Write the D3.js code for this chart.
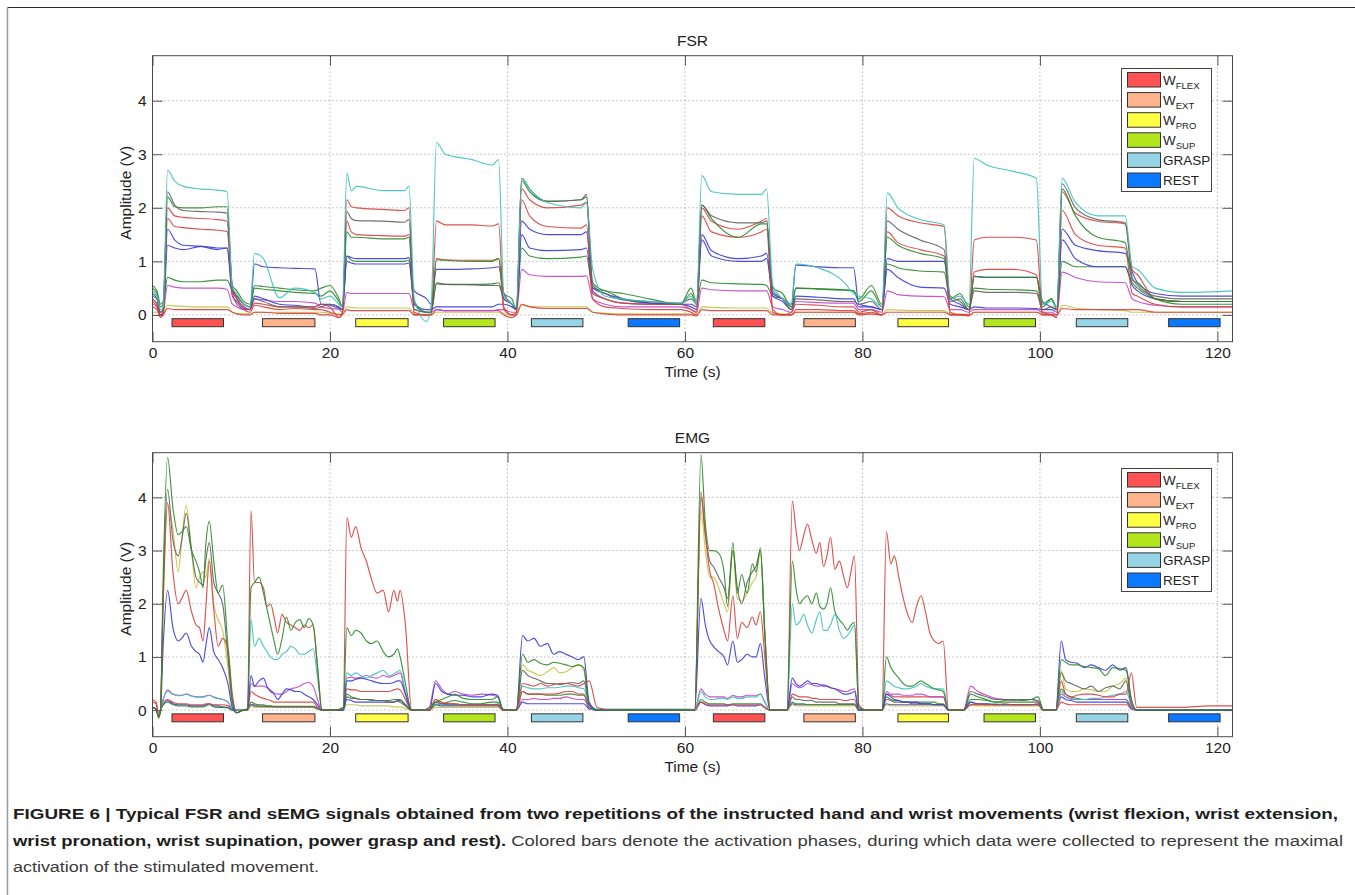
<!DOCTYPE html>
<html>
<head>
<meta charset="utf-8">
<script src="https://cdn.jsdelivr.net/npm/d3@7"></script>
<style>
  body { margin: 0; background: #fff; }
  text { font-family: "Liberation Sans", Arial, Helvetica, sans-serif; }
</style>
</head>
<body>
<script>
// ---- data ----
var xTicks = [0, 20, 40, 60, 80, 100, 120];
var yTicks = [0, 1, 2, 3, 4];

var phaseNames = ["FLEX", "EXT", "PRO", "SUP", "GRASP", "REST"];
var phaseColors = ["#ff5252", "#ffb48c", "#ffff46", "#b4e61e", "#96d4e6", "#0a78ff"];
var barStart = [2.2, 12.4, 22.9, 32.8, 42.7, 53.6, 63.2, 73.4, 84.0, 93.7, 104.1, 114.5];
var barEnd   = [8.0, 18.3, 28.8, 38.6, 48.5, 59.4, 69.0, 79.2, 89.7, 99.5, 109.9, 120.3];
var barPhase = [0, 1, 2, 3, 4, 5, 0, 1, 2, 3, 4, 5];

// FSR channels, sampled at fsrTime (s)
var fsrTime = [
 0, 0.5, 0.9, 1.2,
 1.7, 2.5, 3.5, 5.5, 7.3, 8.4,
 9.0, 9.5, 10.3, 11.0,
 11.5, 12.5, 14.3, 16.0, 18.3,
 19.0, 20.0, 21.0, 21.4,
 21.9, 22.4, 23.0, 26.0, 28.4, 28.9,
 29.5, 30.9, 31.4,
 32.0, 33.0, 36.0, 38.3, 39.0,
 39.6, 40.5, 41.0,
 41.6, 42.5, 44.5, 48.3, 48.9,
 49.6, 51.0, 53.0, 56.0, 59.5, 60.7, 61.3,
 61.9, 63.0, 66.0, 68.6, 69.2,
 69.9, 71.0, 72.0,
 72.5, 75.0, 78.0, 79.0,
 79.6, 81.0, 82.2,
 82.8, 84.0, 86.5, 89.2,
 89.9, 91.0, 92.0,
 92.6, 94.0, 97.0, 99.6,
 100.3, 101.3, 101.9,
 102.5, 104.0, 106.5, 109.6,
 110.4, 111.0, 113.0, 116.0, 121.7];

var fsrCyan = [
 0.45, 0.35, 0.1, 0.15,
 2.7, 2.5, 2.4, 2.35, 2.33, 2.3,
 0.5, 0.4, 0.2, 0.15,
 1.15, 1.05, 0.32, 0.5, 0.42,
 0.3, 0.35, 0.2, 0.15,
 2.65, 2.32, 2.4, 2.32, 2.32, 2.4,
 0.3, -0.12, 0.2,
 3.22, 3.0, 2.9, 2.8, 2.9,
 0.35, 0.2, 0.15,
 2.55, 2.35, 2.1, 2.0, 2.1,
 0.85, 0.35, 0.3, 0.25, 0.22, 0.35, 0.2,
 2.6, 2.3, 2.25, 2.25, 2.35,
 0.55, 0.3, 0.2,
 0.95, 0.88, 0.6, 0.4,
 0.35, 0.3, 0.15,
 2.28, 2.0, 1.78, 1.68,
 0.3, 0.35, 0.2,
 2.92, 2.8, 2.68, 2.55,
 0.2, 0.25, 0.15,
 2.55, 2.1, 1.85, 1.85,
 0.9, 0.85, 0.5, 0.42, 0.45];

var fsrGray = [
 0.35, 0.3, 0.05, 0.1,
 2.3, 2.05, 1.95, 1.93, 1.92, 1.9,
 0.5, 0.35, 0.2, 0.15,
 0.3, 0.25, 0.15, 0.15, 0.12,
 0.15, 0.2, 0.15, 0.1,
 1.93, 1.8, 1.76, 1.75, 1.73, 1.78,
 0.1, 0.05, 0.05,
 0.6, 0.57, 0.56, 0.55, 0.55,
 0.3, 0.2, 0.1,
 2.55, 2.35, 2.12, 2.15, 2.25,
 0.55, 0.4, 0.28, 0.25, 0.22, 0.3, 0.2,
 2.05, 1.85, 1.72, 1.72, 1.75,
 0.45, 0.3, 0.1,
 0.3, 0.28, 0.25, 0.25,
 0.2, 0.25, 0.1,
 1.75, 1.6, 1.4, 1.22,
 0.25, 0.3, 0.1,
 0.45, 0.42, 0.42, 0.4,
 0.1, 0.15, 0.1,
 2.45, 2.0, 1.78, 1.72,
 0.7, 0.55, 0.35, 0.3, 0.3];

var fsrGreen = [
 0.55, 0.45, 0.2, 0.25,
 2.2, 2.02, 2.0, 2.0, 2.02, 2.02,
 0.55, 0.45, 0.25, 0.2,
 0.55, 0.53, 0.5, 0.47, 0.45,
 0.5, 0.55, 0.3, 0.15,
 1.55, 1.45, 1.45, 1.42, 1.42, 1.45,
 0.25, 0.05, 0.05,
 1.03, 1.02, 1.0, 1.0, 1.05,
 0.4, 0.3, 0.1,
 2.5, 2.3, 2.12, 2.15, 2.2,
 0.6, 0.45, 0.4, 0.3, 0.2, 0.5, 0.25,
 2.05, 1.8, 1.45, 1.7, 1.7,
 0.5, 0.4, 0.15,
 0.5, 0.49, 0.47, 0.45,
 0.3, 0.55, 0.2,
 1.45, 1.3, 1.15, 1.05,
 0.35, 0.25, 0.1,
 0.72, 0.7, 0.7, 0.7,
 0.2, 0.3, 0.15,
 2.35, 1.85, 1.45, 1.35,
 0.65, 0.6, 0.3, 0.25, 0.25];

var fsrRed1 = [
 0.3, 0.2, 0.0, 0.05,
 2.0, 1.85, 1.82, 1.8, 1.78, 1.75,
 0.45, 0.3, 0.15, 0.1,
 0.22, 0.2, 0.15, 0.15, 0.15,
 0.2, 0.15, -0.05, 0.05,
 2.15, 2.02, 2.0, 1.97, 1.95, 2.0,
 0.05, 0.0, 0.05,
 1.75, 1.68, 1.68, 1.66, 1.7,
 0.15, 0.0, 0.05,
 2.35, 2.15, 2.0, 2.05, 2.1,
 0.4, 0.3, 0.22, 0.2, 0.2, 0.1, 0.05,
 2.0, 1.75, 1.6, 1.75, 1.8,
 0.1, 0.0, 0.05,
 0.2, 0.18, 0.15, 0.15,
 0.05, 0.1, 0.0,
 2.0, 1.85, 1.72, 1.65,
 0.05, 0.0, 0.0,
 1.4, 1.45, 1.45, 1.4,
 0.05, 0.0, -0.05,
 2.3, 1.9, 1.75, 1.7,
 0.85, 0.75, 0.3, 0.25, 0.25];

var fsrRed2 = [
 0.25, 0.15, -0.05, 0.0,
 1.8, 1.65, 1.63, 1.6, 1.58, 1.56,
 0.4, 0.2, 0.1, 0.05,
 0.18, 0.15, 0.1, 0.12, 0.1,
 0.1, 0.05, 0.0, 0.0,
 1.75, 1.55, 1.5, 1.48, 1.47, 1.5,
 0.0, 0.0, 0.0,
 1.05, 1.03, 1.02, 1.02, 1.05,
 0.1, 0.0, 0.0,
 2.15, 1.85, 1.65, 1.62, 1.68,
 0.3, 0.15, 0.12, 0.1, 0.1, 0.05, 0.0,
 1.85, 1.55, 1.45, 1.55, 1.6,
 0.05, 0.0, 0.0,
 0.1, 0.1, 0.08, 0.08,
 0.02, 0.05, 0.0,
 1.55, 1.35, 1.22, 1.1,
 0.0, 0.0, 0.0,
 0.8, 0.85, 0.85, 0.75,
 0.0, 0.0, -0.05,
 1.95, 1.5, 1.3, 1.25,
 0.4, 0.35, 0.2, 0.15, 0.15];

var fsrBlue1 = [
 0.4, 0.3, 0.05, 0.1,
 1.6, 1.4, 1.3, 1.28, 1.22, 1.25,
 0.5, 0.3, 0.15, 0.1,
 0.95, 0.9, 0.88, 0.87, 0.86,
 0.2, 0.2, 0.15, 0.1,
 1.1, 1.07, 1.05, 1.05, 1.05, 1.07,
 0.45, 0.3, 0.2,
 0.85, 0.85, 0.86, 0.88, 0.9,
 0.4, 0.2, 0.1,
 1.75, 1.6, 1.5, 1.5, 1.55,
 0.5, 0.4, 0.3, 0.22, 0.2, 0.2, 0.15,
 1.5, 1.2, 1.05, 1.1, 1.15,
 0.4, 0.3, 0.2,
 0.93, 0.9, 0.88, 0.88,
 0.2, 0.15, 0.1,
 1.05, 1.0, 1.0, 1.0,
 0.3, 0.2, 0.1,
 0.72, 0.7, 0.7, 0.7,
 0.25, 0.15, 0.1,
 1.6, 1.3, 1.2, 1.15,
 0.8, 0.6, 0.4, 0.35, 0.35];

var fsrBlue2 = [
 0.3, 0.2, 0.0, 0.05,
 1.3, 1.25, 1.22, 1.28, 1.25, 1.25,
 0.35, 0.25, 0.12, 0.1,
 0.35, 0.3, 0.2, 0.18, 0.15,
 0.2, 0.18, 0.12, 0.1,
 1.0, 0.97, 0.95, 0.95, 0.95, 0.97,
 0.2, 0.1, 0.1,
 0.15, 0.15, 0.15, 0.15, 0.2,
 0.2, 0.15, 0.1,
 1.5, 1.25, 1.2, 1.22, 1.25,
 0.45, 0.3, 0.22, 0.2, 0.2, 0.15, 0.1,
 1.4, 1.1, 1.0, 1.0, 1.05,
 0.35, 0.25, 0.1,
 0.35, 0.33, 0.3, 0.3,
 0.15, 0.15, 0.1,
 0.85, 0.7, 0.52, 0.5,
 0.2, 0.15, 0.1,
 0.15, 0.13, 0.13, 0.12,
 0.1, 0.1, 0.05,
 1.4, 1.05, 0.9, 0.9,
 0.55, 0.45, 0.3, 0.25, 0.25];

var fsrGreen2 = [
 0.5, 0.4, 0.15, 0.2,
 0.7, 0.65, 0.62, 0.62, 0.65, 0.65,
 0.45, 0.35, 0.2, 0.15,
 0.5, 0.48, 0.45, 0.42, 0.4,
 0.35, 0.45, 0.25, 0.15,
 1.1, 1.02, 1.0, 1.0, 1.0, 1.02,
 0.2, 0.05, 0.05,
 0.58, 0.57, 0.57, 0.58, 0.6,
 0.3, 0.2, 0.1,
 1.25, 1.1, 1.05, 1.08, 1.1,
 0.5, 0.45, 0.3, 0.22, 0.2, 0.4, 0.2,
 0.65, 0.6, 0.58, 0.57, 0.55,
 0.35, 0.3, 0.15,
 0.5, 0.48, 0.46, 0.45,
 0.25, 0.45, 0.15,
 0.95, 0.88, 0.82, 0.8,
 0.3, 0.4, 0.15,
 0.5, 0.48, 0.47, 0.45,
 0.15, 0.3, 0.1,
 1.0, 0.9, 0.9, 0.9,
 0.6, 0.5, 0.3, 0.2, 0.2];

var fsrMagenta = [
 0.2, 0.15, 0.0, 0.05,
 0.55, 0.52, 0.5, 0.5, 0.5, 0.48,
 0.2, 0.15, 0.1, 0.1,
 0.3, 0.28, 0.25, 0.25, 0.22,
 0.15, 0.12, 0.1, 0.05,
 0.42, 0.4, 0.4, 0.4, 0.4, 0.4,
 0.1, 0.05, 0.05,
 0.1, 0.08, 0.08, 0.08, 0.1,
 0.1, 0.05, 0.05,
 0.85, 0.75, 0.72, 0.72, 0.73,
 0.3, 0.2, 0.15, 0.15, 0.15, 0.1, 0.05,
 0.5, 0.47, 0.45, 0.45, 0.45,
 0.15, 0.1, 0.05,
 0.25, 0.23, 0.22, 0.22,
 0.1, 0.1, 0.05,
 0.45, 0.38, 0.35, 0.34,
 0.1, 0.1, 0.05,
 0.1, 0.1, 0.1, 0.1,
 0.05, 0.05, 0.0,
 0.8, 0.7, 0.62, 0.6,
 0.3, 0.25, 0.18, 0.15, 0.15];

var fsrOlive = [
 0.05, 0.05, 0.0, 0.02,
 0.18, 0.17, 0.16, 0.15, 0.15, 0.15,
 0.05, 0.03, 0.02, 0.02,
 0.05, 0.05, 0.05, 0.05, 0.05,
 0.05, 0.03, 0.02, 0.02,
 0.15, 0.14, 0.13, 0.13, 0.13, 0.13,
 0.02, 0.0, 0.0,
 0.05, 0.05, 0.05, 0.05, 0.05,
 0.02, 0.0, 0.0,
 0.18, 0.16, 0.15, 0.15, 0.15,
 0.05, 0.03, 0.02, 0.02, 0.02, 0.02, 0.0,
 0.15, 0.14, 0.13, 0.13, 0.13,
 0.03, 0.02, 0.0,
 0.05, 0.05, 0.05, 0.05,
 0.02, 0.02, 0.0,
 0.1, 0.09, 0.08, 0.08,
 0.02, 0.02, 0.0,
 0.05, 0.05, 0.05, 0.05,
 0.02, 0.02, 0.0,
 0.18, 0.13, 0.1, 0.08,
 0.05, 0.05, 0.05, 0.05, 0.05];

var fsrRed3 = [
 0.15, 0.1, -0.02, 0.0,
 0.12, 0.1, 0.1, 0.1, 0.1, 0.1,
 0.05, 0.02, 0.0, 0.0,
 0.05, 0.05, 0.03, 0.03, 0.03,
 0.0, 0.0, -0.05, 0.0,
 0.1, 0.08, 0.08, 0.08, 0.08, 0.08,
 0.0, 0.0, 0.0,
 0.1, 0.08, 0.08, 0.08, 0.08,
 0.0, -0.05, 0.0,
 0.2, 0.15, 0.12, 0.12, 0.12,
 0.05, 0.02, 0.0, 0.0, 0.0, 0.0, -0.02,
 0.1, 0.08, 0.08, 0.08, 0.08,
 0.0, 0.0, 0.0,
 0.05, 0.05, 0.05, 0.05,
 0.0, 0.02, 0.0,
 0.05, 0.05, 0.05, 0.05,
 0.0, 0.0, -0.02,
 0.05, 0.05, 0.05, 0.05,
 0.0, 0.0, 0.0,
 0.12, 0.1, 0.1, 0.1,
 0.1, 0.1, 0.05, 0.05, 0.05];

// EMG channels, sampled at emgTime (s)
var emgTime = [
 0, 0.4, 0.7, 0.9,
 1.2, 1.7, 2.3, 2.9, 3.3, 3.8, 4.4, 4.9, 5.3, 5.7, 6.0, 6.4, 6.9, 7.4, 7.9, 8.5, 9.0,
 9.5, 10.2, 10.7,
 11.1, 11.5, 12.0, 12.5, 12.9, 13.3, 13.7, 14.1, 14.6, 15.1, 15.6, 16.1, 16.6, 17.1, 17.6, 18.1, 18.6,
 19.1, 20.5, 21.5,
 21.9, 22.4, 22.9, 23.5, 24.1, 24.7, 25.3, 26.0, 26.6, 27.2, 27.6, 27.9, 28.5,
 29.2, 30.5, 31.2,
 31.9, 32.6, 33.3, 34.0, 35.0, 36.0, 37.0, 38.2, 38.9,
 39.5, 40.5, 41.0,
 41.7, 42.3, 43.0, 43.7, 44.5, 45.2, 45.9, 46.6, 47.3, 48.0, 48.6, 49.2,
 50.1, 52.0, 55.0, 58.0, 60.5, 61.1,
 61.8, 62.3, 62.8, 63.2, 63.8, 64.4, 64.8, 65.4, 65.9, 66.4, 67.0, 67.6, 68.0, 68.5, 69.0,
 69.6, 70.5, 71.5,
 72.1, 72.5, 72.9, 73.4, 73.8, 74.3, 74.8, 75.2, 75.6, 76.0, 76.4, 76.9, 77.4, 77.9, 78.3, 78.7, 79.1,
 79.6, 80.5, 81.5, 82.2,
 82.7, 83.2, 83.6, 84.1, 84.6, 85.1, 85.6, 86.1, 86.6, 87.1, 87.6, 88.1, 88.6, 89.1,
 89.7, 90.6, 91.4,
 92.2, 93.0, 94.0, 95.0, 96.0, 97.0, 98.0, 99.0, 99.8,
 100.4, 101.2, 101.8,
 102.4, 102.9, 103.5, 104.2, 105.0, 105.8, 106.6, 107.4, 108.2, 109.0, 109.7, 110.3,
 110.9, 113.0, 116.0, 119.0, 121.7];

var emgRed1 = [
 0.15, 0.12, -0.12, 0.0,
 2.0, 3.9, 2.6, 2.0, 2.1, 2.25, 1.85, 1.6, 1.55, 1.3, 1.9, 2.8, 1.9, 1.2, 1.35, 1.15, 0.3,
 -0.05, 0.0, 0.02,
 3.75, 2.4, 2.4, 2.3, 1.95, 2.0, 1.75, 1.45, 1.8, 1.65, 1.6, 1.55, 1.5, 1.6, 1.55, 1.6, 0.8,
 0.0, 0.0, 0.05,
 3.62, 3.25, 3.45, 3.05, 2.8, 2.45, 2.2, 2.25, 1.85, 2.25, 2.05, 2.25, 1.6,
 0.0, 0.0, 0.0,
 0.2, 0.15, 0.12, 0.12, 0.1, 0.1, 0.1, 0.1, 0.1,
 0.0, 0.0, 0.0,
 0.5, 0.48, 0.45, 0.5, 0.45, 0.48, 0.5, 0.5, 0.48, 0.45, 0.5, 0.55,
 0.05, 0.0, 0.0, 0.0, 0.0, 0.0,
 4.1, 3.3, 2.6, 2.4, 1.9, 1.5, 1.3, 2.15, 1.35, 1.65, 1.55, 1.75, 1.6, 1.85, 1.0,
 0.0, 0.0, 0.0,
 3.93, 3.4, 3.0, 3.3, 3.5, 3.2, 2.95, 3.15, 2.7, 2.9, 3.25, 2.65, 2.8, 2.5, 2.3, 2.6, 2.9,
 0.1, 0.0, 0.0, 0.0,
 3.35, 2.75, 2.9, 2.5, 2.1, 1.8, 1.65, 1.95, 2.15, 1.85, 1.45, 1.3, 1.25, 1.3,
 0.0, 0.0, 0.0,
 0.1, 0.12, 0.1, 0.1, 0.12, 0.1, 0.1, 0.1, 0.12,
 0.0, 0.0, 0.0,
 0.55, 0.3, 0.25, 0.28, 0.3, 0.3, 0.28, 0.25, 0.25, 0.3, 0.3, 0.7,
 0.05, 0.05, 0.05, 0.08, 0.08];

var emgGreen = [
 0.05, 0.02, -0.15, 0.0,
 2.5, 4.75, 3.8, 3.3, 3.35, 3.45, 3.0, 2.8, 2.6, 2.3, 3.1, 3.55, 2.8, 2.2, 2.35, 1.2, 0.2,
 -0.05, 0.0, 0.02,
 2.3, 2.4, 2.5, 2.2, 1.9, 1.6, 1.3, 1.05, 1.35, 1.75, 1.5, 1.65, 1.7, 1.55, 1.72, 1.6, 0.8,
 0.0, 0.0, 0.05,
 1.55, 1.4, 1.5, 1.45, 1.3, 1.25, 1.3, 1.1, 1.0, 1.05, 1.15, 1.0, 0.5,
 0.0, 0.0, 0.05,
 0.15, 0.2, 0.25, 0.3, 0.22, 0.2, 0.2, 0.2, 0.25,
 0.02, 0.0, 0.0,
 1.05, 0.9, 0.95, 0.88, 0.85, 0.9, 0.88, 0.85, 0.82, 0.85, 0.8, 0.1,
 0.0, 0.0, 0.0, 0.0, 0.0, 0.0,
 4.8, 3.5, 3.0, 3.0, 2.95, 2.6, 1.95, 3.15, 2.2, 2.55, 2.2, 2.75, 2.6, 3.05, 1.5,
 0.0, 0.0, 0.0,
 2.8, 2.3, 2.0, 2.1, 2.15, 2.0, 2.2, 1.95, 1.9, 2.0, 2.3, 1.85, 1.7, 1.6, 1.5, 1.6, 1.65,
 0.05, 0.0, 0.0, 0.0,
 1.0, 0.8, 0.7, 0.6, 0.5, 0.45, 0.45, 0.5, 0.55, 0.5, 0.45, 0.4, 0.38, 0.35,
 0.0, 0.0, 0.0,
 0.3, 0.25, 0.2, 0.15, 0.18, 0.2, 0.18, 0.2, 0.25,
 0.0, 0.0, 0.0,
 0.95, 0.9, 0.85, 0.85, 0.82, 0.8, 0.78, 0.65, 0.8, 0.78, 0.75, 0.2,
 0.0, 0.0, 0.0, 0.0, 0.0];

var emgGray = [
 0.05, 0.02, -0.12, 0.0,
 2.2, 4.15, 3.2, 2.9, 3.2, 3.7, 3.0, 2.5, 2.4, 2.35, 2.8, 3.15, 2.4, 2.2, 2.0, 1.0, 0.15,
 -0.05, 0.0, 0.02,
 0.1, 0.1, 0.08, 0.08, 0.07, 0.07, 0.06, 0.06, 0.06, 0.06, 0.06, 0.06, 0.06, 0.06, 0.06, 0.06, 0.03,
 0.0, 0.0, 0.0,
 0.25, 0.22, 0.22, 0.2, 0.2, 0.2, 0.18, 0.18, 0.15, 0.15, 0.17, 0.15, 0.08,
 0.0, 0.0, 0.0,
 0.15, 0.12, 0.1, 0.1, 0.1, 0.1, 0.1, 0.1, 0.1,
 0.0, 0.0, 0.0,
 0.75, 0.65, 0.6, 0.55, 0.5, 0.5, 0.48, 0.5, 0.52, 0.5, 0.55, 0.1,
 0.0, 0.0, 0.0, 0.0, 0.0, 0.0,
 4.0, 3.3, 2.8, 2.7, 2.5, 2.3, 2.1, 3.0, 2.3, 2.0, 2.4, 2.6, 2.7, 3.0, 1.4,
 0.0, 0.0, 0.0,
 0.25, 0.2, 0.2, 0.18, 0.18, 0.18, 0.15, 0.15, 0.15, 0.15, 0.15, 0.15, 0.12, 0.12, 0.12, 0.12, 0.12,
 0.0, 0.0, 0.0, 0.0,
 0.2, 0.18, 0.15, 0.15, 0.15, 0.15, 0.12, 0.12, 0.12, 0.12, 0.12, 0.1, 0.1, 0.1,
 0.0, 0.0, 0.0,
 0.35, 0.3, 0.25, 0.2, 0.2, 0.2, 0.2, 0.2, 0.18,
 0.0, 0.0, 0.0,
 0.7, 0.55, 0.5, 0.45, 0.4, 0.45, 0.35, 0.42, 0.45, 0.4, 0.55, 0.1,
 0.0, 0.0, 0.0, 0.0, 0.0];

var emgOlive = [
 0.05, 0.02, -0.12, 0.0,
 2.0, 3.85, 3.4, 2.6, 3.2, 3.85, 3.0, 2.3, 2.5, 2.6, 2.5, 2.85, 2.0, 1.7, 1.5, 0.8, 0.1,
 -0.05, 0.0, 0.0,
 0.08, 0.05, 0.05, 0.05, 0.05, 0.05, 0.05, 0.05, 0.05, 0.05, 0.05, 0.05, 0.05, 0.05, 0.05, 0.05, 0.02,
 0.0, 0.0, 0.0,
 0.1, 0.1, 0.1, 0.08, 0.08, 0.08, 0.08, 0.08, 0.08, 0.06, 0.06, 0.06, 0.03,
 0.0, 0.0, 0.0,
 0.05, 0.05, 0.05, 0.05, 0.05, 0.05, 0.05, 0.05, 0.05,
 0.0, 0.0, 0.0,
 0.85, 0.75, 0.7, 0.65, 0.72, 0.8, 0.7, 0.72, 0.8, 0.85, 0.75, 0.1,
 0.0, 0.0, 0.0, 0.0, 0.0, 0.0,
 3.75, 3.0, 2.5, 2.5, 2.3, 2.0, 1.85, 3.0, 2.1, 2.05, 2.2, 2.4, 2.5, 2.95, 1.4,
 0.0, 0.0, 0.0,
 0.1, 0.08, 0.08, 0.08, 0.08, 0.08, 0.08, 0.08, 0.08, 0.08, 0.08, 0.08, 0.08, 0.08, 0.08, 0.08, 0.08,
 0.0, 0.0, 0.0, 0.0,
 0.1, 0.08, 0.08, 0.08, 0.08, 0.08, 0.08, 0.08, 0.08, 0.08, 0.08, 0.08, 0.08, 0.08,
 0.0, 0.0, 0.0,
 0.1, 0.08, 0.08, 0.08, 0.08, 0.08, 0.08, 0.08, 0.08,
 0.0, 0.0, 0.0,
 0.75, 0.4, 0.35, 0.35, 0.4, 0.38, 0.35, 0.35, 0.45, 0.5, 0.6, 0.1,
 0.0, 0.0, 0.0, 0.0, 0.0];

var emgBlue1 = [
 0.05, 0.02, -0.12, 0.0,
 1.2, 2.25, 1.55, 1.3, 1.35, 1.45, 1.2, 1.1, 1.05, 0.9, 1.2, 1.55, 1.1, 0.95, 0.8, 0.5, 0.05,
 -0.05, 0.0, 0.0,
 0.65, 0.45, 0.55, 0.6, 0.45, 0.35, 0.3, 0.2, 0.3, 0.4, 0.38, 0.35, 0.35, 0.3, 0.25, 0.2, 0.1,
 0.0, 0.0, 0.0,
 0.55, 0.55, 0.58, 0.6, 0.58, 0.55, 0.52, 0.5, 0.5, 0.52, 0.55, 0.55, 0.3,
 0.0, 0.0, 0.0,
 0.5, 0.35, 0.3, 0.28, 0.28, 0.25, 0.25, 0.3, 0.28,
 0.0, 0.0, 0.0,
 1.4, 1.3, 1.35, 1.2, 1.25, 1.05, 1.1, 1.05, 1.0, 0.95, 1.0, 0.15,
 0.0, 0.0, 0.0, 0.0, 0.0, 0.0,
 2.1, 1.6, 1.3, 1.2, 1.1, 1.0, 0.85, 1.3, 0.9, 0.95, 1.05, 1.0, 1.0, 1.25, 0.6,
 0.0, 0.0, 0.0,
 0.6, 0.5, 0.45, 0.5, 0.55, 0.5, 0.5, 0.48, 0.45, 0.45, 0.42, 0.4, 0.35, 0.3, 0.3, 0.32, 0.35,
 0.0, 0.0, 0.0, 0.0,
 0.3, 0.25, 0.2, 0.18, 0.15, 0.15, 0.15, 0.15, 0.12, 0.12, 0.12, 0.1, 0.1, 0.1,
 0.0, 0.0, 0.0,
 0.15, 0.12, 0.12, 0.1, 0.1, 0.1, 0.1, 0.1, 0.1,
 0.0, 0.0, 0.0,
 1.3, 0.95, 0.9, 0.88, 0.8, 0.85, 0.8, 0.75, 0.85, 0.75, 0.8, 0.2,
 0.0, 0.0, 0.0, 0.0, 0.0];

var emgCyan = [
 0.05, 0.02, -0.1, 0.0,
 0.2, 0.35, 0.3, 0.27, 0.28, 0.3, 0.26, 0.25, 0.25, 0.24, 0.26, 0.28, 0.24, 0.22, 0.2, 0.15, 0.02,
 0.0, 0.0, 0.0,
 1.7, 1.2, 1.35, 1.2, 1.1, 1.0, 0.95, 0.95, 1.05, 1.1, 1.2, 1.15, 1.05, 1.05, 1.1, 1.15, 0.6,
 0.0, 0.0, 0.0,
 0.7, 0.65, 0.7, 0.65, 0.6, 0.65, 0.7, 0.75, 0.65, 0.68, 0.72, 0.75, 0.35,
 0.0, 0.0, 0.0,
 0.12, 0.1, 0.1, 0.1, 0.1, 0.1, 0.1, 0.1, 0.12,
 0.0, 0.0, 0.0,
 0.45, 0.42, 0.4, 0.4, 0.42, 0.42, 0.43, 0.45, 0.45, 0.42, 0.4, 0.1,
 0.02, 0.02, 0.02, 0.02, 0.02, 0.0,
 0.35, 0.25, 0.2, 0.2, 0.22, 0.22, 0.2, 0.25, 0.22, 0.22, 0.25, 0.25, 0.25, 0.3, 0.15,
 0.0, 0.0, 0.0,
 2.0, 1.6, 1.65, 1.8, 1.6, 1.45, 1.7, 1.85, 1.5, 1.5, 1.6, 1.8, 1.5, 1.35, 1.4, 1.5, 1.6,
 0.05, 0.0, 0.0, 0.0,
 0.55, 0.5, 0.45, 0.42, 0.4, 0.4, 0.42, 0.45, 0.5, 0.45, 0.42, 0.4, 0.4, 0.4,
 0.0, 0.0, 0.0,
 0.15, 0.12, 0.12, 0.12, 0.1, 0.1, 0.1, 0.1, 0.12,
 0.0, 0.0, 0.0,
 0.35, 0.25, 0.2, 0.2, 0.2, 0.22, 0.22, 0.25, 0.28, 0.3, 0.35, 0.1,
 0.0, 0.0, 0.0, 0.0, 0.0];

var emgMagenta = [
 0.05, 0.02, -0.1, 0.0,
 0.2, 0.38, 0.3, 0.28, 0.28, 0.3, 0.27, 0.25, 0.25, 0.25, 0.27, 0.28, 0.25, 0.22, 0.2, 0.15, 0.02,
 0.0, 0.0, 0.0,
 0.5, 0.45, 0.45, 0.45, 0.42, 0.38, 0.32, 0.3, 0.3, 0.35, 0.4, 0.42, 0.45, 0.5, 0.52, 0.45, 0.2,
 0.0, 0.0, 0.0,
 0.6, 0.62, 0.6, 0.62, 0.65, 0.62, 0.6, 0.65, 0.62, 0.65, 0.68, 0.7, 0.3,
 0.0, 0.0, 0.05,
 0.55, 0.4, 0.3, 0.35, 0.3, 0.28, 0.3, 0.28, 0.25,
 0.0, 0.0, 0.0,
 0.2, 0.2, 0.22, 0.2, 0.2, 0.22, 0.22, 0.25, 0.22, 0.2, 0.2, 0.05,
 0.0, 0.0, 0.0, 0.0, 0.0, 0.0,
 0.4, 0.3, 0.25, 0.25, 0.25, 0.25, 0.22, 0.28, 0.25, 0.25, 0.28, 0.28, 0.28, 0.3, 0.15,
 0.0, 0.0, 0.0,
 0.5, 0.45, 0.42, 0.45, 0.5, 0.48, 0.45, 0.45, 0.48, 0.45, 0.42, 0.4, 0.38, 0.35, 0.35, 0.38, 0.4,
 0.0, 0.0, 0.0, 0.0,
 0.35, 0.3, 0.3, 0.3, 0.28, 0.28, 0.28, 0.3, 0.3, 0.28, 0.25, 0.25, 0.25, 0.25,
 0.0, 0.0, 0.0,
 0.45, 0.35, 0.28, 0.22, 0.2, 0.18, 0.2, 0.2, 0.15,
 0.0, 0.0, 0.0,
 0.3, 0.25, 0.22, 0.2, 0.2, 0.2, 0.2, 0.2, 0.2, 0.2, 0.2, 0.05,
 0.0, 0.0, 0.0, 0.0, 0.0];

var emgRed2 = [
 0.2, 0.15, -0.1, 0.0,
 0.15, 0.2, 0.15, 0.12, 0.12, 0.12, 0.1, 0.1, 0.1, 0.1, 0.12, 0.12, 0.1, 0.1, 0.1, 0.08, 0.02,
 0.0, 0.0, 0.0,
 0.35, 0.3, 0.25, 0.22, 0.2, 0.18, 0.15, 0.15, 0.15, 0.15, 0.15, 0.15, 0.15, 0.15, 0.15, 0.15, 0.05,
 0.0, 0.0, 0.0,
 0.4, 0.38, 0.38, 0.35, 0.35, 0.35, 0.35, 0.35, 0.35, 0.38, 0.4, 0.38, 0.2,
 0.0, 0.0, 0.0,
 0.2, 0.12, 0.12, 0.12, 0.1, 0.1, 0.1, 0.1, 0.1,
 0.0, 0.0, 0.0,
 0.35, 0.3, 0.3, 0.3, 0.3, 0.3, 0.32, 0.35, 0.35, 0.3, 0.3, 0.05,
 0.0, 0.0, 0.0, 0.0, 0.0, 0.0,
 0.15, 0.12, 0.1, 0.1, 0.1, 0.1, 0.1, 0.1, 0.1, 0.1, 0.1, 0.1, 0.1, 0.1, 0.05,
 0.0, 0.0, 0.0,
 0.3, 0.28, 0.25, 0.25, 0.25, 0.22, 0.22, 0.2, 0.2, 0.2, 0.2, 0.2, 0.2, 0.18, 0.18, 0.2, 0.2,
 0.0, 0.0, 0.0, 0.0,
 0.3, 0.28, 0.25, 0.25, 0.25, 0.25, 0.25, 0.25, 0.25, 0.25, 0.25, 0.25, 0.25, 0.25,
 0.0, 0.0, 0.0,
 0.1, 0.1, 0.1, 0.1, 0.1, 0.1, 0.1, 0.1, 0.1,
 0.0, 0.0, 0.0,
 0.15, 0.12, 0.1, 0.1, 0.1, 0.1, 0.1, 0.1, 0.1, 0.1, 0.1, 0.05,
 0.0, 0.0, 0.0, 0.0, 0.0];

var emgBlue2 = [
 0.05, 0.02, -0.12, 0.0,
 0.1, 0.18, 0.12, 0.1, 0.1, 0.1, 0.08, 0.08, 0.08, 0.08, 0.1, 0.12, 0.08, 0.08, 0.06, 0.05, 0.0,
 0.0, 0.0, 0.0,
 0.1, 0.08, 0.06, 0.06, 0.05, 0.05, 0.05, 0.05, 0.05, 0.05, 0.05, 0.05, 0.05, 0.05, 0.05, 0.05, 0.02,
 0.0, 0.0, 0.0,
 0.2, 0.18, 0.15, 0.15, 0.15, 0.15, 0.15, 0.15, 0.15, 0.15, 0.18, 0.18, 0.1,
 0.0, 0.0, 0.0,
 0.1, 0.08, 0.08, 0.08, 0.08, 0.08, 0.08, 0.08, 0.08,
 0.0, 0.0, 0.0,
 0.15, 0.12, 0.12, 0.12, 0.12, 0.12, 0.12, 0.12, 0.12, 0.12, 0.12, 0.02,
 0.0, 0.0, 0.0, 0.0, 0.0, 0.0,
 0.15, 0.1, 0.08, 0.08, 0.08, 0.08, 0.08, 0.1, 0.08, 0.08, 0.08, 0.08, 0.08, 0.1, 0.05,
 0.0, 0.0, 0.0,
 0.12, 0.1, 0.1, 0.1, 0.1, 0.1, 0.1, 0.1, 0.1, 0.1, 0.1, 0.1, 0.1, 0.1, 0.1, 0.1, 0.1,
 0.0, 0.0, 0.0, 0.0,
 0.12, 0.1, 0.1, 0.1, 0.1, 0.1, 0.1, 0.1, 0.1, 0.1, 0.1, 0.1, 0.1, 0.1,
 0.0, 0.0, 0.0,
 0.1, 0.1, 0.1, 0.1, 0.1, 0.1, 0.1, 0.1, 0.1,
 0.0, 0.0, 0.0,
 0.25, 0.2, 0.18, 0.15, 0.15, 0.15, 0.15, 0.15, 0.15, 0.15, 0.15, 0.02,
 0.0, 0.0, 0.0, 0.0, 0.0];

var emgGreen2 = [
 0.05, 0.02, -0.1, 0.0,
 0.1, 0.15, 0.1, 0.08, 0.08, 0.08, 0.06, 0.06, 0.06, 0.06, 0.08, 0.1, 0.06, 0.05, 0.05, 0.04, 0.0,
 0.0, 0.0, 0.0,
 0.15, 0.12, 0.1, 0.1, 0.08, 0.08, 0.07, 0.07, 0.07, 0.07, 0.07, 0.07, 0.07, 0.07, 0.07, 0.07, 0.03,
 0.0, 0.0, 0.0,
 0.3, 0.25, 0.22, 0.2, 0.2, 0.18, 0.18, 0.18, 0.18, 0.2, 0.2, 0.2, 0.1,
 0.0, 0.0, 0.0,
 0.1, 0.12, 0.15, 0.18, 0.15, 0.12, 0.12, 0.15, 0.15,
 0.0, 0.0, 0.0,
 0.35, 0.3, 0.3, 0.3, 0.28, 0.28, 0.28, 0.3, 0.3, 0.28, 0.28, 0.05,
 0.0, 0.0, 0.0, 0.0, 0.0, 0.0,
 0.2, 0.15, 0.12, 0.12, 0.12, 0.12, 0.1, 0.12, 0.12, 0.12, 0.12, 0.12, 0.12, 0.12, 0.05,
 0.0, 0.0, 0.0,
 0.15, 0.12, 0.12, 0.12, 0.1, 0.1, 0.1, 0.1, 0.1, 0.1, 0.1, 0.1, 0.1, 0.1, 0.1, 0.1, 0.1,
 0.0, 0.0, 0.0, 0.0,
 0.25, 0.2, 0.18, 0.18, 0.15, 0.15, 0.15, 0.15, 0.15, 0.15, 0.15, 0.15, 0.12, 0.12,
 0.0, 0.0, 0.0,
 0.2, 0.2, 0.18, 0.15, 0.15, 0.15, 0.15, 0.15, 0.15,
 0.0, 0.0, 0.0,
 0.4, 0.3, 0.25, 0.22, 0.2, 0.2, 0.2, 0.2, 0.2, 0.2, 0.2, 0.05,
 0.0, 0.0, 0.0, 0.0, 0.0];

// ---- drawing ----
var W = 1355, H = 895;
var cBlue = "#3a3ad8", cGreen = "#2b8a2b", cRed = "#d8403c", cCyan = "#3fc0c0",
    cMag = "#c246c6", cOlive = "#c6c244", cGray = "#626262";

var fsrSeries = [
  [fsrOlive, cOlive], [fsrRed3, cRed], [fsrMagenta, cMag], [fsrGreen2, cGreen],
  [fsrBlue2, cBlue], [fsrBlue1, cBlue], [fsrRed2, cRed], [fsrRed1, cRed],
  [fsrGreen, cGreen], [fsrGray, cGray], [fsrCyan, cCyan]
];
var emgSeries = [
  [emgBlue2, cBlue], [emgGreen2, cGreen], [emgRed2, cRed], [emgMagenta, cMag],
  [emgCyan, cCyan], [emgOlive, cOlive], [emgGray, cGray], [emgBlue1, cBlue],
  [emgRed1, cRed], [emgGreen, cGreen]
];

var svg = d3.select("body").append("svg")
    .attr("width", W).attr("height", H)
    .style("display", "block").style("background", "#fff");

// figure frame (top and left edges visible)
svg.append("line").attr("x1", 7.5).attr("y1", 7.5).attr("x2", W).attr("y2", 7.5)
    .attr("stroke", "#2a2a2a").attr("stroke-width", 1.2);
svg.append("line").attr("x1", 7.5).attr("y1", 7.5).attr("x2", 7.5).attr("y2", H)
    .attr("stroke", "#9a9a9a").attr("stroke-width", 1.5);

function drawPanel(name, top, bottom, legendY, time, series) {
  var left = 152.5, right = 1232.5;
  var x = d3.scaleLinear().domain([0, 121.7]).range([left, right]);
  var y = d3.scaleLinear().domain([-0.5, 4.84]).range([bottom, top]);
  var g = svg.append("g");

  // dotted grid
  g.selectAll(".vgrid").data(xTicks.slice(1)).enter().append("line")
    .attr("x1", function(d) { return x(d); }).attr("x2", function(d) { return x(d); })
    .attr("y1", top).attr("y2", bottom)
    .attr("stroke", "#8a8a8a").attr("stroke-width", 0.9).attr("stroke-dasharray", "1,3");
  g.selectAll(".hgrid").data(yTicks).enter().append("line")
    .attr("x1", left).attr("x2", right)
    .attr("y1", function(d) { return y(d); }).attr("y2", function(d) { return y(d); })
    .attr("stroke", "#8a8a8a").attr("stroke-width", 0.9).attr("stroke-dasharray", "1,3");

  // signals
  var clipId = "clip-" + name;
  svg.append("clipPath").attr("id", clipId).append("rect")
    .attr("x", left).attr("y", top).attr("width", right - left).attr("height", bottom - top);
  var line = d3.line()
    .x(function(d) { return x(d[0]); })
    .y(function(d) { return y(d[1]); })
    .curve(d3.curveMonotoneX);
  series.forEach(function(s) {
    var pts = time.map(function(t, i) { return [t, s[0][i]]; })
                  .filter(function(p) { return p[1] !== undefined; });
    g.append("path").datum(pts)
      .attr("clip-path", "url(#" + clipId + ")")
      .attr("d", line)
      .attr("fill", "none").attr("stroke", s[1])
      .attr("stroke-width", 1.15).attr("stroke-opacity", 0.9)
      .attr("stroke-linejoin", "round");
  });

  // activation phase bars
  g.selectAll(".bar").data(barStart).enter().append("rect")
    .attr("x", function(d) { return x(d); })
    .attr("y", y(-0.07))
    .attr("width", function(d, i) { return x(barEnd[i]) - x(d); })
    .attr("height", y(-0.22) - y(-0.07))
    .attr("fill", function(d, i) { return phaseColors[barPhase[i]]; })
    .attr("stroke", "#333").attr("stroke-width", 1);

  // axes with inward ticks on all four sides
  var fmt = d3.format("d");
  var axB = g.append("g").attr("transform", "translate(0," + bottom + ")")
    .call(d3.axisBottom(x).tickValues(xTicks).tickFormat(fmt).tickSizeInner(-10).tickSizeOuter(0).tickPadding(5));
  var axL = g.append("g").attr("transform", "translate(" + left + ",0)")
    .call(d3.axisLeft(y).tickValues(yTicks).tickFormat(fmt).tickSizeInner(-10).tickSizeOuter(0).tickPadding(6));
  var axT = g.append("g").attr("transform", "translate(0," + top + ")")
    .call(d3.axisTop(x).tickValues(xTicks).tickFormat("").tickSizeInner(-10).tickSizeOuter(0));
  var axR = g.append("g").attr("transform", "translate(" + right + ",0)")
    .call(d3.axisRight(y).tickValues(yTicks).tickFormat("").tickSizeInner(-10).tickSizeOuter(0));
  [axB, axL, axT, axR].forEach(function(a) {
    a.select(".domain").remove();
    a.selectAll(".tick line").attr("stroke", "#555");
    a.selectAll(".tick text").attr("fill", "#222").style("font-size", "15.5px")
      .style("font-family", "'Liberation Sans', Arial, sans-serif");
  });

  // plot box
  g.append("rect").attr("x", left).attr("y", top)
    .attr("width", right - left).attr("height", bottom - top)
    .attr("fill", "none").attr("stroke", "#4a4a4a").attr("stroke-width", 1);

  // titles
  g.append("text").attr("x", (left + right) / 2).attr("y", top - 10)
    .attr("text-anchor", "middle").style("font-size", "15.5px").attr("fill", "#222")
    .text(name);
  g.append("text").attr("x", (left + right) / 2).attr("y", bottom + 35)
    .attr("text-anchor", "middle").style("font-size", "15.5px").attr("fill", "#222")
    .text("Time (s)");
  g.append("text")
    .attr("transform", "translate(131," + ((top + bottom) / 2 - 6) + ") rotate(-90)")
    .attr("text-anchor", "middle").style("font-size", "15.5px").attr("fill", "#222")
    .text("Amplitude (V)");

  // legend
  var lx = 1121.5, lw = 90, lh = 123;
  var lg = g.append("g");
  lg.append("rect").attr("x", lx).attr("y", legendY).attr("width", lw).attr("height", lh)
    .attr("fill", "#fff").attr("stroke", "#444").attr("stroke-width", 1);
  phaseNames.forEach(function(p, i) {
    var ry = legendY + 4 + i * 20.1;
    lg.append("rect").attr("x", lx + 6).attr("y", ry).attr("width", 33).attr("height", 14.5)
      .attr("fill", phaseColors[i]).attr("stroke", "#333").attr("stroke-width", 1);
    var t = lg.append("text").attr("x", lx + 41.5).attr("y", ry + 12)
      .attr("fill", "#222").style("font-size", "13.5px");
    if (i < 4) {
      t.append("tspan").text("W");
      t.append("tspan").attr("dy", 4).style("font-size", "9.5px").text(p);
    } else {
      t.text(p);
    }
  });
}

drawPanel("FSR", 55.7, 341.7, 68.5, fsrTime, fsrSeries);
drawPanel("EMG", 452.7, 736.7, 468.5, emgTime, emgSeries);

// caption
var cap = svg.append("g").attr("fill", "#1e1e1e").style("font-size", "15.5px");
var c1 = cap.append("text").attr("x", 13).attr("y", 819)
  .attr("textLength", 1325).attr("lengthAdjust", "spacingAndGlyphs");
c1.append("tspan").style("font-weight", "bold")
  .text("FIGURE 6 | Typical FSR and sEMG signals obtained from two repetitions of the instructed hand and wrist movements (wrist flexion, wrist extension,");
var c2 = cap.append("text").attr("x", 13).attr("y", 846)
  .attr("textLength", 1330).attr("lengthAdjust", "spacingAndGlyphs");
c2.append("tspan").style("font-weight", "bold")
  .text("wrist pronation, wrist supination, power grasp and rest).");
c2.append("tspan").attr("fill", "#3a3a3a")
  .text(" Colored bars denote the activation phases, during which data were collected to represent the maximal");
cap.append("text").attr("x", 13).attr("y", 872).attr("fill", "#3a3a3a")
  .attr("textLength", 306).attr("lengthAdjust", "spacingAndGlyphs")
  .text("activation of the stimulated movement.");
</script>
</body>
</html>
